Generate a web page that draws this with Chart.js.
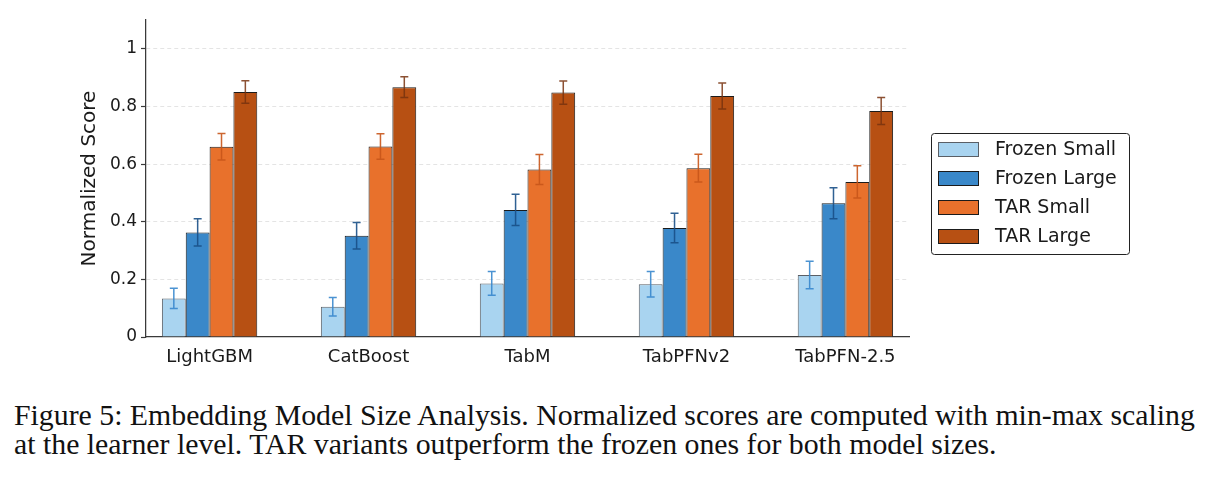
<!DOCTYPE html>
<html>
<head>
<meta charset="utf-8">
<script src="https://cdn.jsdelivr.net/npm/chart.js@4.4.1/dist/chart.umd.min.js"></script>
<style>
  html, body { margin: 0; padding: 0; background: #fff; }
  #wrap { position: absolute; left: 0; top: 0; width: 1218px; height: 375px; }
  .caption {
    position: absolute; left: 14px; top: 400px;
    font-family: "Liberation Serif", "Times New Roman", serif;
    font-size: 29.8px; line-height: 29px; color: #111; white-space: nowrap;
  }
</style>
</head>
<body>
<div id="wrap"><canvas id="chart" width="1218" height="375"></canvas></div>
<div class="caption">Figure 5: Embedding Model Size Analysis. Normalized scores are computed with min-max scaling<br>at the learner level. TAR variants outperform the frozen ones for both model sizes.</div>
<script>
// data
const categories = ['LightGBM', 'CatBoost', 'TabM', 'TabPFNv2', 'TabPFN-2.5'];
const seriesNames = ['Frozen Small', 'Frozen Large', 'TAR Small', 'TAR Large'];
const frozenSmall = [0.134, 0.105, 0.186, 0.183, 0.215];
const frozenSmallErr = [0.035, 0.032, 0.041, 0.044, 0.048];
const frozenLarge = [0.363, 0.351, 0.441, 0.378, 0.464];
const frozenLargeErr = [0.047, 0.046, 0.054, 0.051, 0.054];
const tarSmall = [0.660, 0.661, 0.581, 0.586, 0.538];
const tarSmallErr = [0.046, 0.044, 0.052, 0.048, 0.056];
const tarLarge = [0.850, 0.867, 0.848, 0.836, 0.784];
const tarLargeErr = [0.039, 0.036, 0.040, 0.045, 0.047];
const yTickValues = [0, 0.2, 0.4, 0.6, 0.8, 1];
const yTickLabels = ['0', '0.2', '0.4', '0.6', '0.8', '1'];

const fillColors = ['#a9d4f0', '#3a88c9', '#e8712c', '#b75013'];
const edgeColors = ['#5a5f66', '#1b1b1b', '#1b1b1b', '#1b1b1b'];
const errColors = ['rgba(55,135,205,0.9)', 'rgba(25,80,135,0.9)', 'rgba(200,85,25,0.9)', 'rgba(120,50,15,0.85)'];

const values = [frozenSmall, frozenLarge, tarSmall, tarLarge];
const errors = [frozenSmallErr, frozenLargeErr, tarSmallErr, tarLargeErr];

const FONT = '"DejaVu Sans", sans-serif';
const TEXT = '#1a1a1a';

const errorBars = {
  id: 'errorBars',
  afterDatasetsDraw(chart) {
    const ctx = chart.ctx, y = chart.scales.y;
    chart.data.datasets.forEach((ds, di) => {
      chart.getDatasetMeta(di).data.forEach((bar, i) => {
        const v = ds.data[i].y, e = ds.errors[i];
        const top = y.getPixelForValue(v + e), bot = y.getPixelForValue(v - e);
        ctx.save();
        ctx.strokeStyle = ds.errorColor;
        ctx.lineWidth = 1.5;
        ctx.beginPath();
        ctx.moveTo(bar.x, top); ctx.lineTo(bar.x, bot);
        ctx.moveTo(bar.x - 4, top); ctx.lineTo(bar.x + 4, top);
        ctx.moveTo(bar.x - 4, bot); ctx.lineTo(bar.x + 4, bot);
        ctx.stroke();
        ctx.restore();
      });
    });
  }
};

// legend with a rounded frame, like matplotlib's
const boxLegend = {
  id: 'boxLegend',
  afterDraw(chart) {
    const ctx = chart.ctx;
    const left = chart.chartArea.right + 22, top = chart.chartArea.top + 113;
    ctx.save();
    ctx.beginPath();
    ctx.roundRect(left + 0.5, top + 0.5, 198, 121, 3);
    ctx.fillStyle = 'rgba(255,255,255,0.9)';
    ctx.fill();
    ctx.strokeStyle = '#222';
    ctx.lineWidth = 1;
    ctx.stroke();
    chart.data.datasets.forEach((ds, i) => {
      const py = top + 9.5 + i * 29;
      ctx.fillStyle = ds.backgroundColor;
      ctx.fillRect(left + 7.5, py, 40, 14);
      ctx.strokeStyle = ds.borderColor;
      ctx.strokeRect(left + 7.5, py, 40, 14);
      ctx.fillStyle = TEXT;
      ctx.font = '19px ' + FONT;
      ctx.textBaseline = 'middle';
      ctx.fillText(ds.label, left + 64, py + 7.5);
    });
    ctx.restore();
  }
};

new Chart(document.getElementById('chart'), {
  type: 'bar',
  data: {
    datasets: seriesNames.map((name, s) => ({
      label: name,
      data: values[s].map((v, i) => ({ x: i, y: v })),
      errors: errors[s],
      errorColor: errColors[s],
      backgroundColor: fillColors[s],
      borderColor: edgeColors[s],
      borderWidth: 1,
      categoryPercentage: 0.6,
      barPercentage: 1
    }))
  },
  options: {
    responsive: false,
    animation: false,
    layout: { padding: { left: 0, right: 309, top: 20, bottom: 0 } },
    plugins: { legend: { display: false }, tooltip: { enabled: false } },
    scales: {
      x: {
        type: 'linear',
        offset: false,
        min: -0.4,
        max: 4.4,
        afterBuildTicks: s => { s.ticks = categories.map((c, i) => ({ value: i })); },
        afterFit: s => { s.height = 38; },
        grid: { display: false, offset: false },
        border: { display: true, color: '#3a3a3a', width: 1.25 },
        ticks: {
          padding: 2,
          color: TEXT,
          font: { family: FONT, size: 18 },
          callback: (v, i) => categories[i]
        }
      },
      y: {
        min: 0,
        max: 1.1,
        afterBuildTicks: s => { s.ticks = yTickValues.map(v => ({ value: v })); },
        afterFit: s => { s.width = 146; },
        grid: {
          color: c => (c.tick && c.tick.value === 0) ? 'rgba(0,0,0,0)' : '#e4e4e4',
          lineWidth: 1,
          drawTicks: true,
          tickLength: 5,
          tickColor: '#3a3a3a',
          tickWidth: 1.2,
          tickBorderDash: []
        },
        border: { display: true, color: '#3a3a3a', width: 1.25, dash: [4, 3] },
        ticks: {
          padding: 4,
          color: TEXT,
          font: { family: FONT, size: 17 },
          callback: (v, i) => yTickLabels[i]
        },
        title: {
          display: true,
          text: 'Normalized Score',
          color: TEXT,
          font: { family: FONT, size: 20 },
          padding: { top: 78, bottom: 0 }
        }
      }
    }
  },
  plugins: [errorBars, boxLegend]
});
</script>
</body>
</html>
